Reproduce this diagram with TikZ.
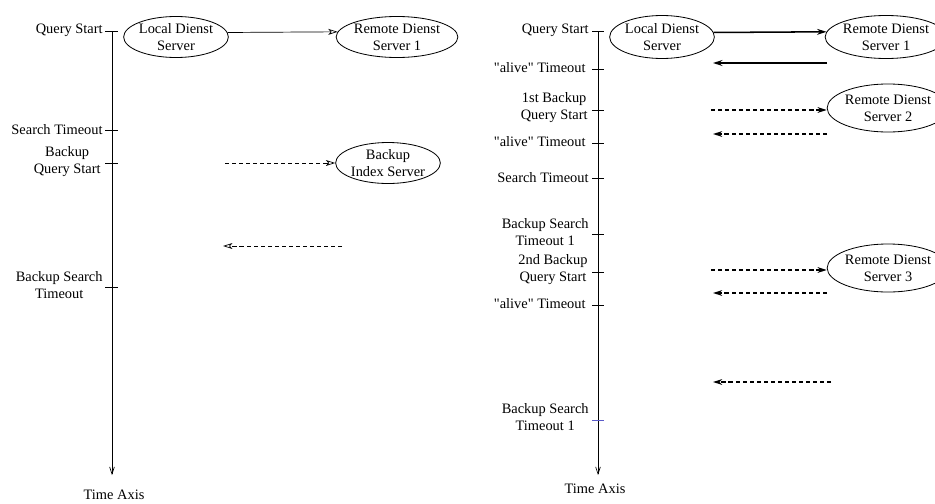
\documentclass[tikz,border=0pt]{standalone}
\usepackage{fontspec}
\setmainfont{Liberation Serif}
\usepackage{xcolor}
\usetikzlibrary{
	arrows.meta,
	shapes.geometric
}
\definecolor{tickblue}{RGB}{90,90,200}

\begin{document}
\begin{tikzpicture}[x=0.03cm, y=-0.03cm,
		every node/.style={font=\fontsize{12.3}{14.5}\selectfont},
		server/.style={draw, ellipse, inner sep=0pt, align=center, line width=0.7pt},
		evt/.style={anchor=east, align=center, inner sep=1pt},
		thinmsg/.style={line width=0.6pt, -{Stealth[open, length=8pt, width=5pt, inset=2pt]}},
		thickmsg/.style={line width=1.3pt, -{Stealth[length=8pt, width=5pt]}},
		dashmsg/.style={line width=1pt, dash pattern=on 3.5pt off 2.5pt, -{Stealth[length=8pt, width=5pt]}},
		dashmsgopen/.style={line width=1pt, dash pattern=on 3.5pt off 2.5pt, -{Stealth[open, length=8pt, width=5pt]}},
		tick/.style={line width=0.6pt}
	]
	\useasboundingbox (0, 0) rectangle (935, 503) ;

	\def\lax{112}
	\def\rax{598}
	\def\alive{\textquotedbl alive\textquotedbl{} Timeout}

	% left: time axis
	\draw[line width=0.6pt, -{Straight Barb[length=6pt, width=4pt]}] (\lax, 31) -- (\lax, 475) ;
	\draw[tick] (\lax - 7, 31) -- ++(13, 0) ;
	\draw[tick] (\lax - 7, 130) -- ++(13, 0) ;
	\draw[tick] (\lax - 7, 163) -- ++(13, 0) ;
	\draw[tick] (\lax - 7, 287) -- ++(13, 0) ;
	\node[evt] (lqs) at (\lax - 8, 30) {Query Start} ;
	\node[evt] (lst) at (\lax - 8, 130) {Search Timeout} ;
	\node[evt] (lbq) at (\lax - 10, 162) {Backup\\Query Start} ;
	\node[evt] (lbt) at (\lax - 8, 285) {Backup Search\\Timeout} ;
	\node (ltime) at (\lax + 2, 495) {Time Axis} ;

	\node[server, minimum width=2.82cm, minimum height=1.23cm] (loca) at (176, 37) {Local Dienst\\Server} ;
	\node[server, minimum width=3.36cm, minimum height=1.23cm] (remA) at (397, 37) {Remote Dienst\\Server 1} ;
	\node[server, minimum width=2.82cm, minimum height=1.23cm] (bis) at (388, 163) {Backup\\Index Server} ;

	\coordinate (lbqs) at (225, 163) ;
	\coordinate (lbrs) at (342, 246) ;
	\coordinate (lbre) at (223, 246) ;

	\draw[thinmsg] (loca.5) -- (remA.175) ;
	\draw[thinmsg, dash pattern=on 3.5pt off 2.5pt] (lbqs) -- (bis.west) ;
	\draw[thinmsg, dash pattern=on 3.5pt off 2.5pt] (lbrs) -- (lbre) ;

	% right: time axis
	\draw[line width=0.6pt, -{Straight Barb[length=6pt, width=4pt]}] (\rax, 31) -- (\rax, 475) ;
	\draw[tick] (\rax - 6, 31) -- ++(12, 0) ;
	\draw[tick] (\rax - 6, 69) -- ++(12, 0) ;
	\draw[tick] (\rax - 6, 110) -- ++(12, 0) ;
	\draw[tick] (\rax - 6, 143) -- ++(12, 0) ;
	\draw[tick] (\rax - 6, 178) -- ++(12, 0) ;
	\draw[tick] (\rax - 6, 234) -- ++(12, 0) ;
	\draw[tick] (\rax - 6, 272) -- ++(12, 0) ;
	\draw[tick] (\rax - 6, 305) -- ++(12, 0) ;
	\draw[tick, tickblue] (\rax - 6, 420) -- ++(12, 0) ;
	\node[evt] (rqs) at (\rax - 8, 30) {Query Start} ;
	\node[evt] (ra1) at (\rax - 11, 68) {\alive} ;
	\node[evt] (rb1) at (\rax - 9, 108) {1st Backup\\Query Start} ;
	\node[evt] (ra2) at (\rax - 11, 142) {\alive} ;
	\node[evt] (rst) at (\rax - 8, 178) {Search Timeout} ;
	\node[evt] (rbt1) at (\rax - 8, 232) {Backup Search\\Timeout 1} ;
	\node[evt] (rb2) at (\rax - 9, 270) {2nd Backup\\Query Start} ;
	\node[evt] (ra3) at (\rax - 11, 304) {\alive} ;
	\node[evt] (rbt2) at (\rax - 8, 417) {Backup Search\\Timeout 1} ;
	\node (rtime) at (\rax - 3, 489) {Time Axis} ;

	\node[server, minimum width=2.79cm, minimum height=1.29cm] (locb) at (662, 37) {Local Dienst\\Server} ;
	\node[server, minimum width=3.54cm, minimum height=1.29cm] (remB) at (886, 37) {Remote Dienst\\Server 1} ;
	\node[server, minimum width=3.54cm, minimum height=1.44cm] (remC) at (888, 108) {Remote Dienst\\Server 2} ;
	\node[server, minimum width=3.54cm, minimum height=1.44cm] (remD) at (888, 268) {Remote Dienst\\Server 3} ;

	\coordinate (ra1s) at (827, 63) ;
	\coordinate (ra1e) at (713, 63) ;
	\coordinate (rb1s) at (711, 110) ;
	\coordinate (ra2s) at (827, 134) ;
	\coordinate (ra2e) at (713, 134) ;
	\coordinate (rb2s) at (711, 270) ;
	\coordinate (ra3s) at (827, 293) ;
	\coordinate (ra3e) at (713, 293) ;
	\coordinate (rlast) at (831, 382) ;
	\coordinate (rlaste) at (713, 382) ;

	\draw[thickmsg] (locb.5) -- (remB.175) ;
	\draw[thickmsg] (ra1s) -- (ra1e) ;
	\draw[dashmsg] (rb1s) -- (remC.west |- rb1s) ;
	\draw[dashmsgopen] (ra2s) -- (ra2e) ;
	\draw[dashmsg] (rb2s) -- (remD.west |- rb2s) ;
	\draw[dashmsgopen] (ra3s) -- (ra3e) ;
	\draw[dashmsg] (rlast) -- (rlaste) ;
\end{tikzpicture}
\end{document}
